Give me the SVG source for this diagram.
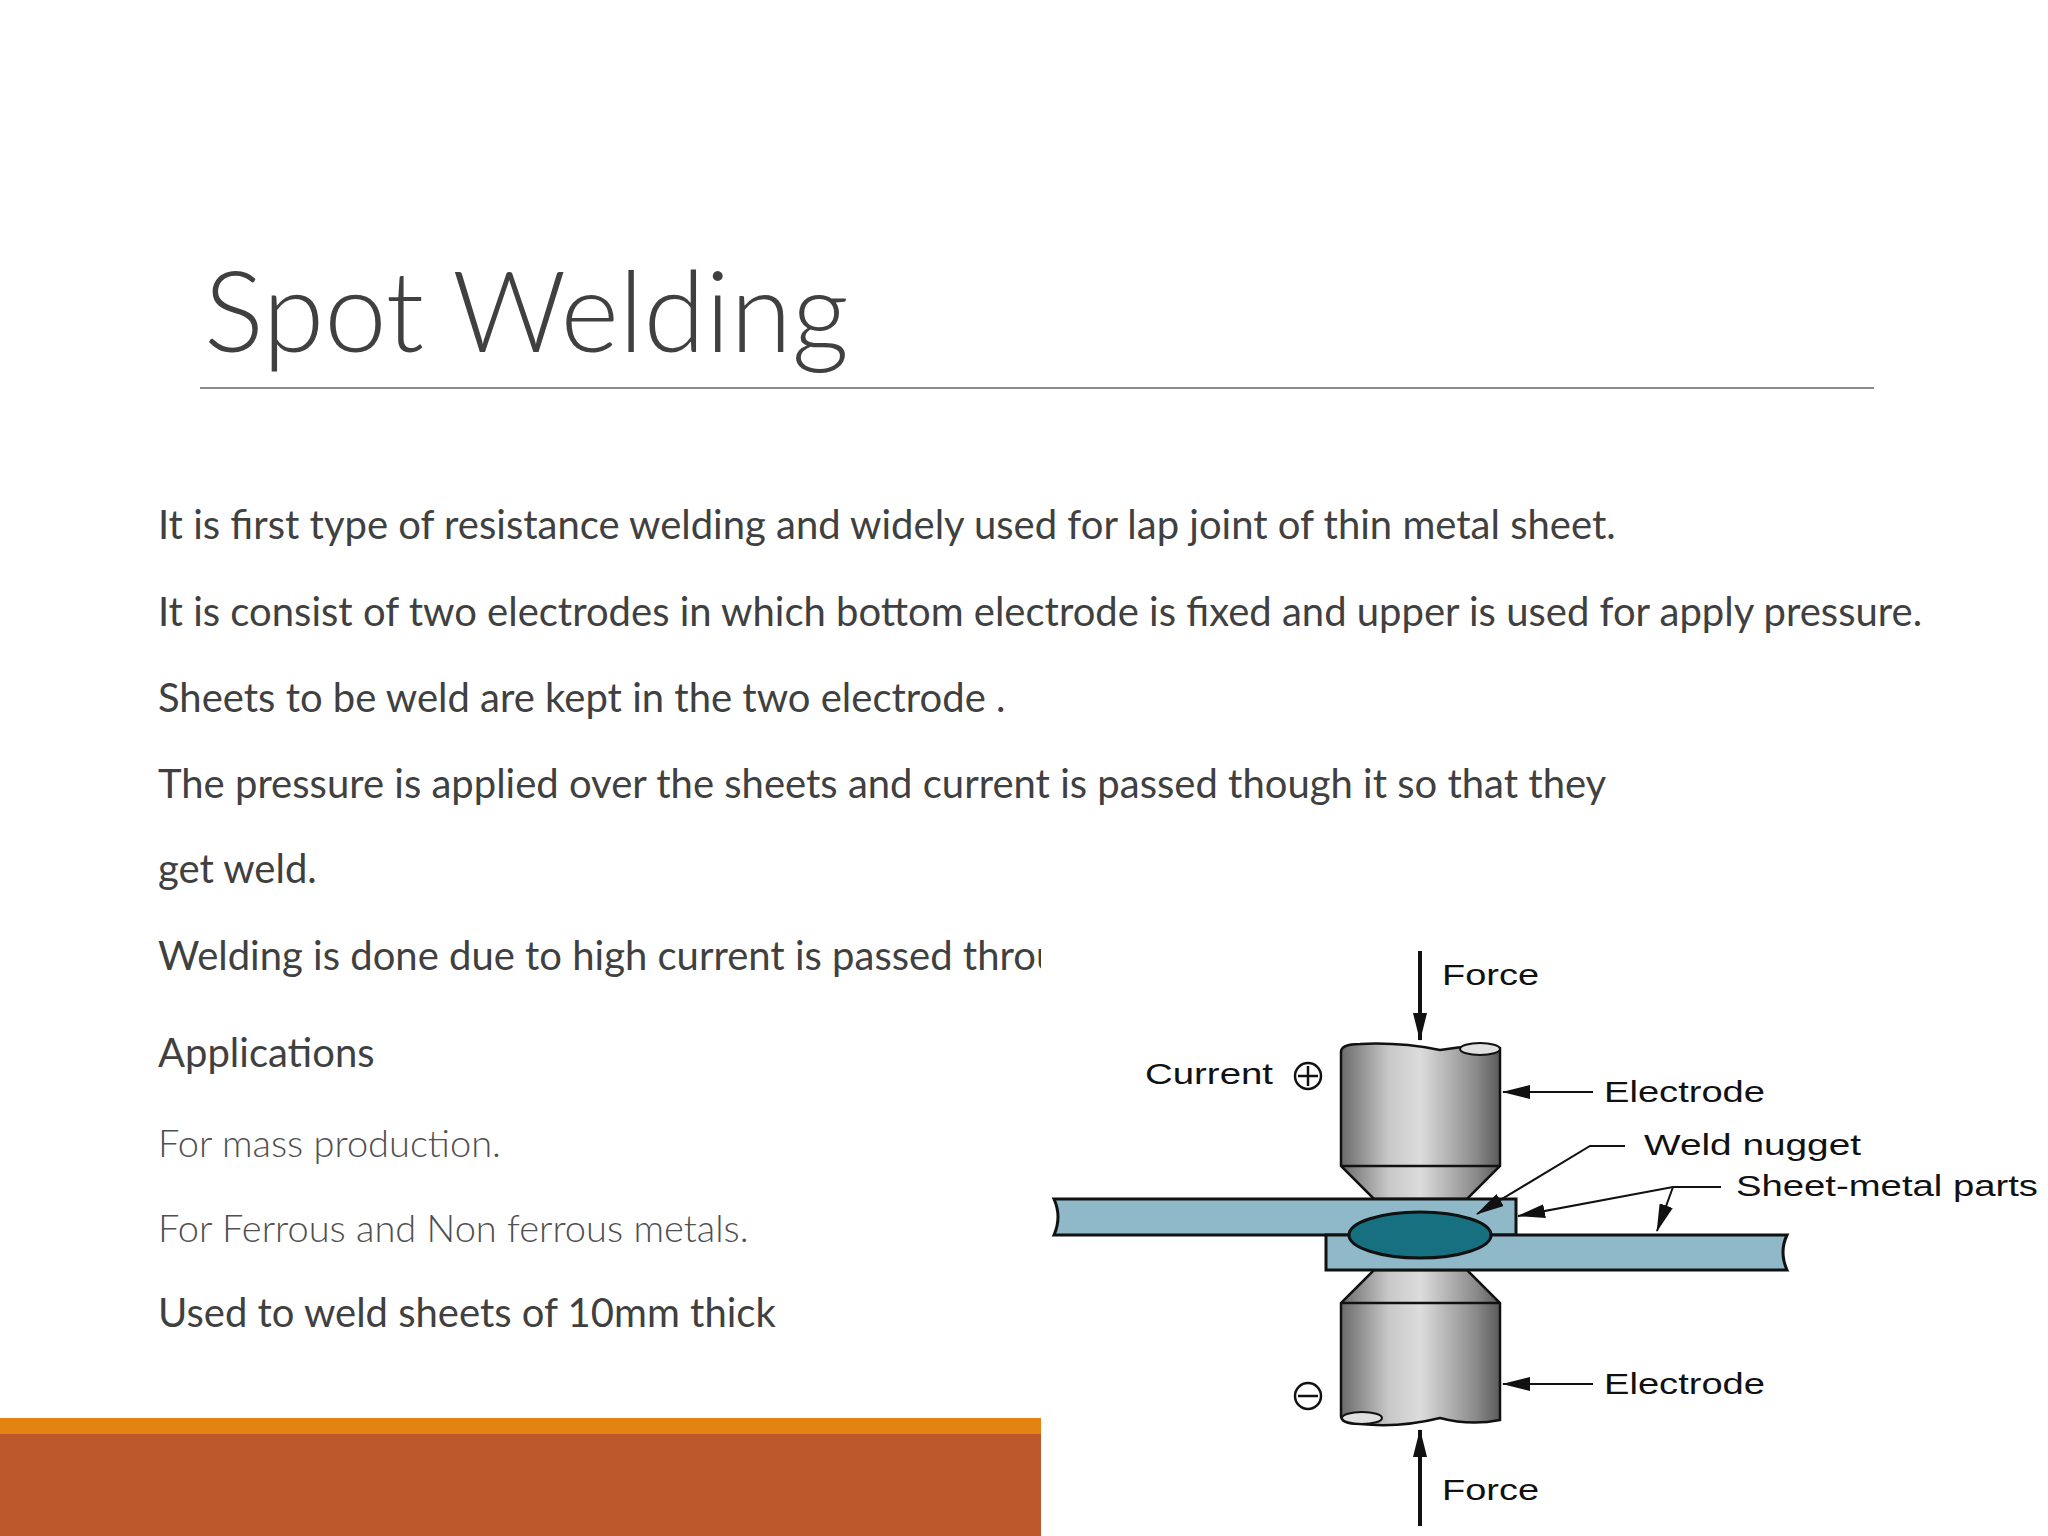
<svg xmlns="http://www.w3.org/2000/svg" width="2048" height="1536" viewBox="0 0 2048 1536">
<style>
.b{font-family:Lato,"Open Sans",sans-serif;font-size:40px;fill:#404040}
.l{font-family:Lato,sans-serif;font-weight:300;font-size:38px;fill:#505050}
.d{font-family:"Liberation Sans",Arial,sans-serif;font-size:29px;fill:#111}
.k{stroke:#111;stroke-width:2.5;fill:none}
</style>
<defs>
<linearGradient id="g" x1="0" x2="1" y1="0" y2="0">
<stop offset="0" stop-color="#6a6a6a"/><stop offset="0.3" stop-color="#c8c8c8"/><stop offset="0.5" stop-color="#dcdcdc"/><stop offset="0.85" stop-color="#8a8a8a"/><stop offset="1" stop-color="#5a5a5a"/>
</linearGradient>
<marker id="a" markerWidth="10" markerHeight="8" refX="9" refY="4" orient="auto" markerUnits="userSpaceOnUse" viewBox="0 0 10 8"><path d="M0,0L10,4L0,8z" fill="#111"/></marker>
<marker id="A" markerWidth="28" markerHeight="14" refX="27" refY="7" orient="auto" markerUnits="userSpaceOnUse"><path d="M0,0L28,7L0,14z" fill="#111"/></marker>
</defs>
<rect width="2048" height="1536" fill="#fff"/>
<g id="title">
<text x="204" y="352" font-family="Lato,'Open Sans',sans-serif" font-weight="300" font-size="112" fill="#404040">Spot Welding</text>
<line x1="200" y1="388" x2="1874" y2="388" stroke="#8a8a8a" stroke-width="2"/>
</g>
<g id="body">
<text class="b" x="158" y="539">It is first type of resistance welding and widely used for  lap joint of thin metal sheet.</text>
<text class="b" x="158" y="626">It is consist of two electrodes in which bottom electrode is fixed and upper is used for    apply pressure.</text>
<text class="b" x="158" y="712">Sheets to be weld are kept in the two electrode .</text>
<text class="b" x="158" y="798">The pressure is applied over the sheets and current is passed though it so that they</text>
<text class="b" x="158" y="883">get weld.</text>
<text class="b" x="158" y="970">Welding is done due to high current is passed through the sheets.</text>
<text class="b" x="158" y="1067" font-size="49">Applications</text>
<text class="l" x="158" y="1157">For mass production.</text>
<text class="l" x="158" y="1242">For Ferrous and Non ferrous metals.</text>
<text class="b" x="158" y="1327" font-size="39">Used to weld sheets of 10mm thick</text>
</g>
<g id="bar">
<rect x="0" y="1418" width="1041" height="16" fill="#E48312"/>
<rect x="0" y="1434" width="1041" height="102" fill="#BC582C"/>
</g>
<g id="figure">
<rect x="1041" y="934" width="1007" height="602" fill="#fff"/>
<g id="top-electrode">
<path d="M1341,1052 Q1341,1044 1360,1044 Q1400,1042 1440,1050 Q1470,1044 1500,1048 L1500,1166 L1467,1199 L1374,1199 L1341,1166 Z" fill="url(#g)" stroke="#111" stroke-width="2.5"/>
<ellipse cx="1480" cy="1049" rx="20" ry="6" fill="#e0e0e0" stroke="#111" stroke-width="2"/>
<line x1="1341" y1="1166" x2="1500" y2="1166" stroke="#111" stroke-width="2.5"/>
</g>
<g id="bottom-electrode">
<path d="M1374,1270 L1467,1270 L1500,1303 L1500,1420 Q1470,1426 1440,1418 Q1400,1428 1360,1424 Q1341,1424 1341,1416 L1341,1303 Z" fill="url(#g)" stroke="#111" stroke-width="2.5"/>
<ellipse cx="1362" cy="1418" rx="20" ry="6" fill="#e0e0e0" stroke="#111" stroke-width="2"/>
<line x1="1341" y1="1303" x2="1500" y2="1303" stroke="#111" stroke-width="2.5"/>
</g>
<g id="sheets">
<path d="M1054,1199 L1516,1199 L1516,1235 L1054,1235 Q1062,1217 1054,1199Z" fill="#8fb8c8" stroke="#111" stroke-width="3"/>
<path d="M1326,1235 L1787,1235 Q1779,1252 1787,1270 L1326,1270 Z" fill="#8fb8c8" stroke="#111" stroke-width="3"/>
<ellipse cx="1420" cy="1235" rx="71" ry="23" fill="#17707f" stroke="#111" stroke-width="3"/>
</g>
<g id="connectors">
<line x1="1420" y1="951" x2="1420" y2="1040" stroke="#111" stroke-width="4" marker-end="url(#A)"/>
<line x1="1420" y1="1526" x2="1420" y2="1430" stroke="#111" stroke-width="4" marker-end="url(#A)"/>
<line x1="1593" y1="1092" x2="1503" y2="1092" stroke="#111" stroke-width="2" marker-end="url(#A)"/>
<line x1="1593" y1="1384" x2="1503" y2="1384" stroke="#111" stroke-width="2" marker-end="url(#A)"/>
<polyline points="1625,1146 1590,1146 1477,1214" stroke="#111" stroke-width="2" fill="none" marker-end="url(#A)"/>
<polyline points="1721,1187 1673,1187 1518,1216" stroke="#111" stroke-width="2" fill="none" marker-end="url(#A)"/>
<line x1="1673" y1="1187" x2="1657" y2="1231" stroke="#111" stroke-width="2" marker-end="url(#A)"/>
</g>
<g id="labels">
<text class="d" x="1442" y="985" textLength="97" lengthAdjust="spacingAndGlyphs">Force</text>
<text class="d" x="1442" y="1500" textLength="97" lengthAdjust="spacingAndGlyphs">Force</text>
<text class="d" x="1145" y="1084" textLength="128" lengthAdjust="spacingAndGlyphs">Current</text>
<circle cx="1308" cy="1076" r="13" class="k"/><path d="M1298,1076H1318M1308,1066V1086" class="k"/>
<circle cx="1308" cy="1396" r="13" class="k"/><path d="M1298,1396H1318" class="k"/>
<text class="d" x="1604" y="1102" textLength="161" lengthAdjust="spacingAndGlyphs">Electrode</text>
<text class="d" x="1604" y="1394" textLength="161" lengthAdjust="spacingAndGlyphs">Electrode</text>
<text class="d" x="1644" y="1155" textLength="217" lengthAdjust="spacingAndGlyphs">Weld nugget</text>
<text class="d" x="1736" y="1196" textLength="302" lengthAdjust="spacingAndGlyphs">Sheet-metal parts</text>
</g>
</g>
</svg>
